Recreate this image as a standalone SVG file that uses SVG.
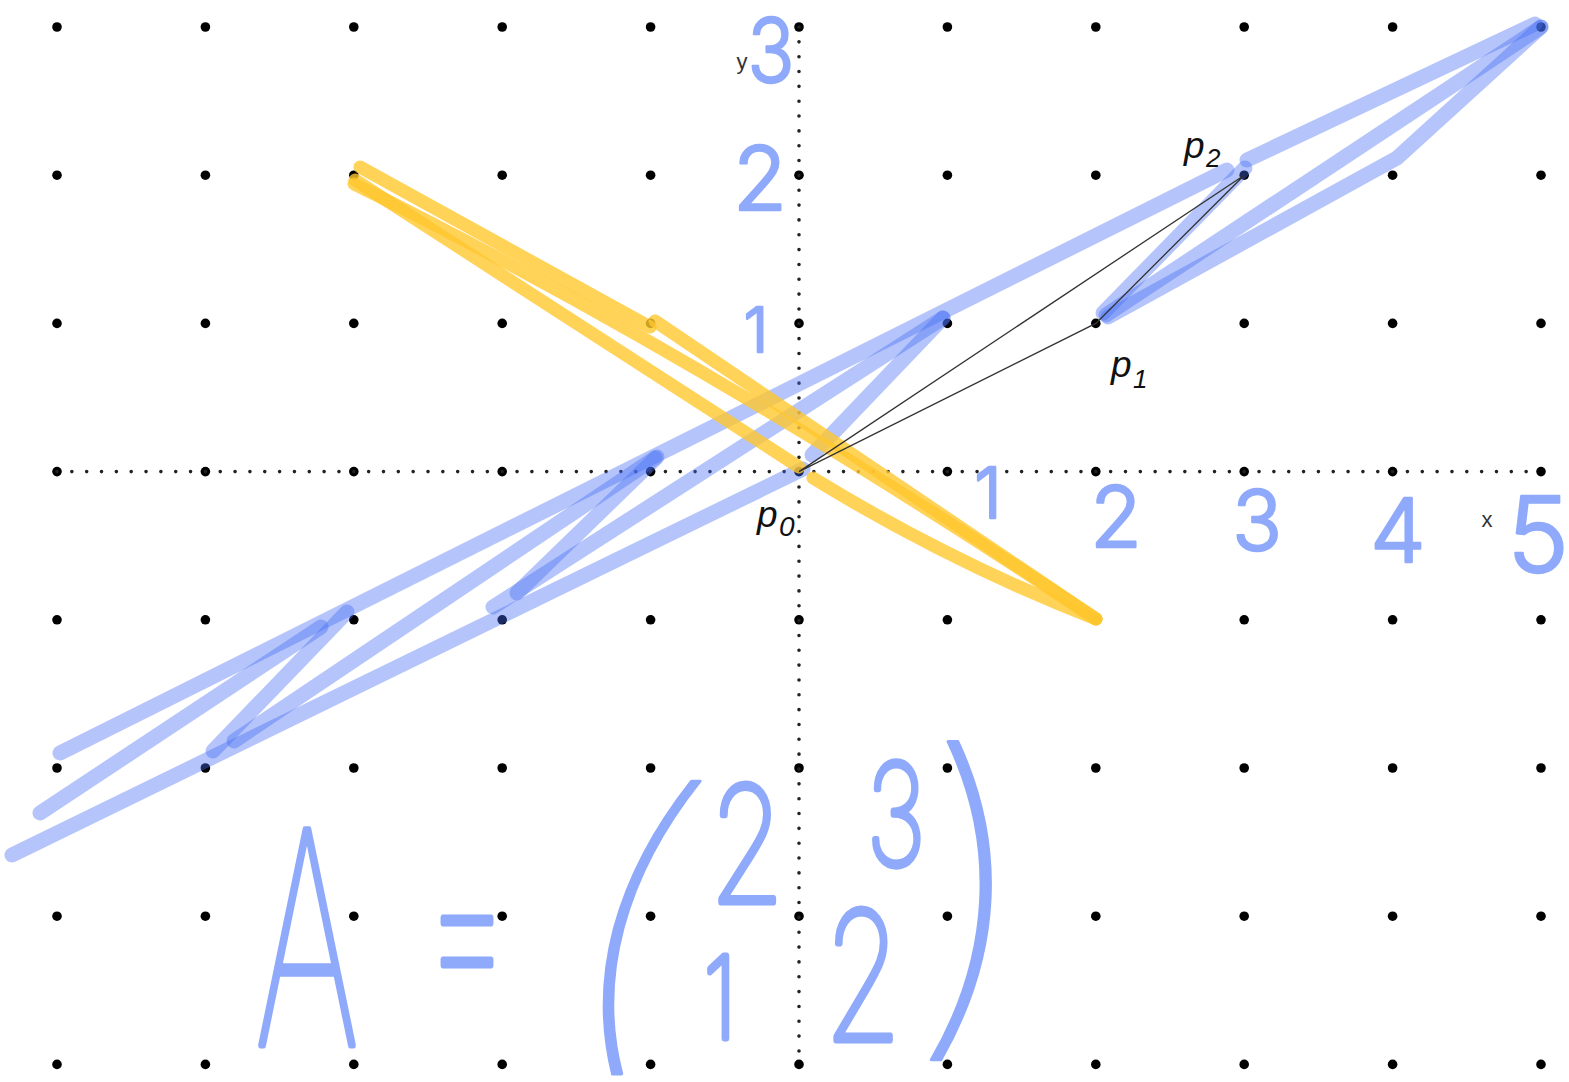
<svg xmlns="http://www.w3.org/2000/svg" xmlns:xlink="http://www.w3.org/1999/xlink" width="1569" height="1082" viewBox="0 0 1569 1082">
<style>
.dot{fill:#000}
.axis{stroke:#222;stroke-width:3.6;stroke-linecap:round;stroke-dasharray:0 14.84;fill:none}
.blue{stroke:rgb(70,110,245);stroke-opacity:0.4;stroke-width:15;stroke-linecap:round;stroke-linejoin:round;fill:none}
.yel{stroke:#ffc72e;stroke-opacity:0.8;stroke-width:13;stroke-linecap:round;stroke-linejoin:round;fill:none}
.tri{stroke:#333;stroke-width:1.3;fill:none}
.lbl{font-family:"Liberation Sans",Arial,sans-serif;font-style:italic;fill:#111}
.ax{font-family:"Liberation Sans",Arial,sans-serif;fill:#333;font-size:22px;text-anchor:middle}
.hw{font-family:Inter,"Liberation Sans",sans-serif;fill:#8fa9fb;stroke:#8fa9fb;stroke-linejoin:round;stroke-linecap:round;text-anchor:middle}
.hs{font-weight:300;stroke-width:2.5}
.hb{font-weight:100;stroke-width:7}
.hp{font-weight:100;stroke-width:3}
</style>
<defs>
<g id="row">
<circle class="dot" cx="57" cy="0" r="4.8"/><circle class="dot" cx="205.4" cy="0" r="4.8"/><circle class="dot" cx="353.8" cy="0" r="4.8"/><circle class="dot" cx="502.2" cy="0" r="4.8"/><circle class="dot" cx="650.6" cy="0" r="4.8"/><circle class="dot" cx="799" cy="0" r="4.8"/><circle class="dot" cx="947.4" cy="0" r="4.8"/><circle class="dot" cx="1095.8" cy="0" r="4.8"/><circle class="dot" cx="1244.2" cy="0" r="4.8"/><circle class="dot" cx="1392.6" cy="0" r="4.8"/><circle class="dot" cx="1541" cy="0" r="4.8"/>
</g>
</defs>
<rect width="1569" height="1082" fill="#fff"/>
<g id="grid">
<use xlink:href="#row" href="#row" y="27"/>
<use xlink:href="#row" href="#row" y="175.2"/>
<use xlink:href="#row" href="#row" y="323.4"/>
<use xlink:href="#row" href="#row" y="471.6"/>
<use xlink:href="#row" href="#row" y="619.8"/>
<use xlink:href="#row" href="#row" y="768"/>
<use xlink:href="#row" href="#row" y="916.2"/>
<use xlink:href="#row" href="#row" y="1064.4"/>
</g>
<g id="axes">
<line class="axis" x1="57" y1="471.6" x2="1541" y2="471.6"/>
<line class="axis" x1="799" y1="27" x2="799" y2="1064.4"/>
<text class="ax" x="1487" y="527">x</text>
<text class="ax" x="742" y="69">y</text>
</g>
<g id="connectors">
<g id="blue-image">
<path class="blue" d="M1247,160 L1535,24"/>
<path class="blue" d="M1227,170 L60,753"/>
<path class="blue" d="M1541,27 L1106,315"/>
<path class="blue" d="M1541,27 L1397,158 L1108,317"/>
<path class="blue" d="M1245,168 L1103,313"/>
<path class="blue" d="M943,318 L812,455"/>
<path class="blue" d="M943,318 L493,607"/>
<path class="blue" d="M517,593 L657,457"/>
<path class="blue" d="M655,458 L234,741"/>
<path class="blue" d="M213,751 L347,612"/>
<path class="blue" d="M40,813 L321,627"/>
<path class="blue" d="M12,855 L803,469"/>
</g>
<g id="yellow-preimage">
<path class="yel" d="M360,167 L650,327"/>
<path class="yel" d="M655,321 L1096,619"/>
<path class="yel" d="M355,180 L799,467"/>
<path class="yel" d="M354,184 Q700,355 1096,619"/>
<path class="yel" d="M813,478 Q950,562 1096,619"/>
</g>
<g id="triangle">
<path class="tri" d="M799,471.6 L1095.8,323.4 L1244.2,175.2 Z"/>
</g>
</g>
<g id="p0"><text class="lbl" x="757" y="527" font-size="37">p</text><text class="lbl" x="779" y="536" font-size="28">0</text></g>
<g id="p1"><text class="lbl" x="1111" y="377" font-size="37">p</text><text class="lbl" x="1133" y="388" font-size="26">1</text></g>
<g id="p2"><text class="lbl" x="1184" y="158" font-size="37">p</text><text class="lbl" x="1206" y="167" font-size="26">2</text></g>
<g id="x-ticks">
<text class="hw hs" x="988" y="518" font-size="70">1</text>
<text class="hw hs" x="1116" y="547" font-size="84">2</text>
<text class="hw hs" x="1257" y="550" font-size="82">3</text>
<text class="hw hs" x="1398" y="562" font-size="88">4</text>
<text class="hw hs" x="1538" y="572" font-size="104">5</text>
</g>
<g id="y-ticks">
<text class="hw hs" transform="translate(771,82) scale(0.88,1)" font-size="88">3</text>
<text class="hw hs" x="760" y="210" font-size="88">2</text>
<text class="hw hs" x="756" y="352" font-size="62">1</text>
</g>
<g id="matrix">
<text class="hw hb" transform="translate(307,1045) scale(0.55,1)" font-size="296">A</text>
<text class="hw hb" transform="translate(467,1004) scale(0.65,1)" font-size="220">=</text>
<text class="hw hp" transform="translate(602,1030) skewX(-15) scale(1.1,1)" font-size="322">(</text>
<text class="hw hb" transform="translate(747,902) scale(0.75,1)" font-size="160">2</text>
<text class="hw hb" transform="translate(896,865) scale(0.72,1)" font-size="140">3</text>
<text class="hw hb" transform="translate(720,1038) scale(0.8,1)" font-size="113">1</text>
<text class="hw hb" transform="translate(863,1040) scale(0.7,1)" font-size="178">2</text>
<text class="hw hp" transform="translate(968,1012) skewX(-3) scale(1.1,1)" font-size="350">)</text>
</g>
</svg>
